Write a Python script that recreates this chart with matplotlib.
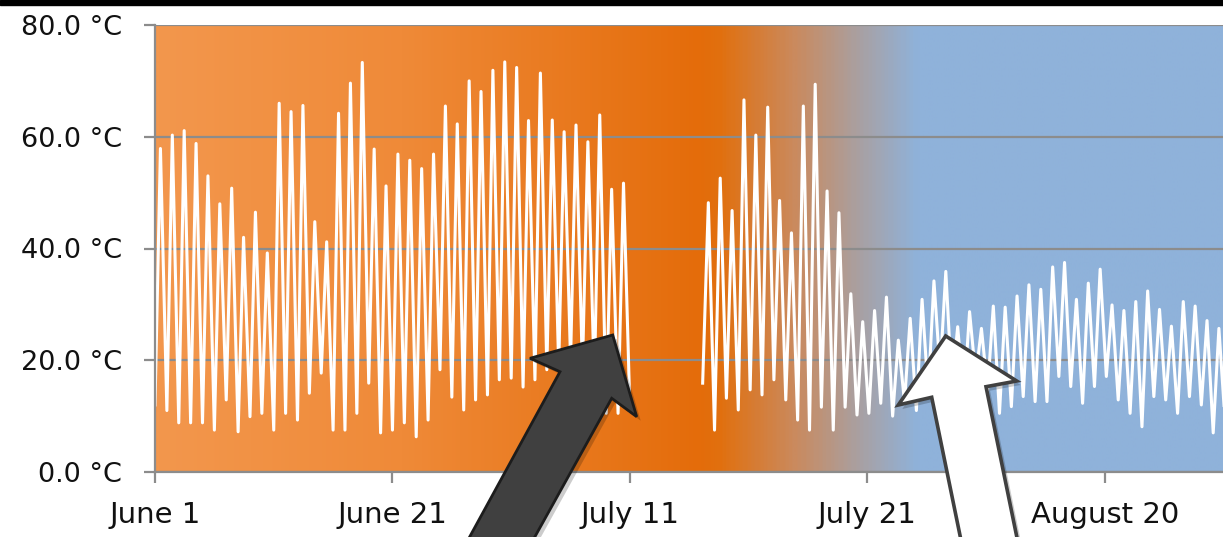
import numpy as np
import matplotlib
matplotlib.use("Agg")
import matplotlib.pyplot as plt
from matplotlib.colors import LinearSegmentedColormap
from matplotlib.patches import Polygon, Rectangle

# --- daily readings (°C) ---
# segment 1: June 1 .. July 10, one max per day, mins at start of each day (+ end)
SEG1_START = 0
SEG1_MAX = [57.9, 60.3, 61.1, 58.8, 53.0, 48.0, 50.8, 42.0, 46.5, 39.2,
            66.0, 64.5, 65.6, 44.8, 41.2, 64.2, 69.6, 73.3, 57.8, 51.2,
            56.9, 55.8, 54.3, 56.9, 65.5, 62.3, 70.0, 68.1, 71.9, 73.4,
            72.4, 62.9, 71.4, 63.0, 60.9, 62.1, 59.1, 63.9, 50.6, 51.7]
SEG1_MIN = [12.0, 11.0, 8.8, 8.8, 8.8, 7.5, 12.9, 7.2, 9.9, 10.5,
            7.5, 10.5, 9.3, 14.1, 17.7, 7.5, 7.5, 10.5, 15.9, 7.0,
            7.5, 8.8, 6.3, 9.3, 18.3, 13.4, 11.1, 12.9, 13.8, 16.5,
            16.8, 15.2, 16.5, 18.3, 18.8, 20.0, 18.3, 15.9, 10.5, 10.5, 11.0]

# segment 2: after the logging gap, July 17 onwards
SEG2_START = 46
SEG2_MAX = [48.2, 52.6, 46.8, 66.6, 60.3, 65.3, 48.6, 42.8, 65.5, 69.4,
            50.3, 46.4, 31.9, 26.9, 28.9, 31.3, 23.6, 27.5, 30.9, 34.2,
            35.9, 26.0, 28.7, 25.7, 29.7, 29.5, 31.5, 33.5, 32.7, 36.7,
            37.5, 30.9, 33.8, 36.3, 29.9, 28.9, 30.5, 32.4, 29.1, 26.1,
            30.5, 29.7, 27.1, 25.7]
SEG2_MIN = [15.9, 7.5, 13.2, 11.1, 14.7, 13.8, 16.5, 12.9, 9.3, 7.5,
            11.6, 7.5, 11.6, 10.2, 10.5, 12.3, 10.0, 12.5, 11.0, 14.0,
            18.0, 15.0, 13.0, 17.0, 14.7, 10.5, 11.7, 13.5, 12.6, 12.6,
            17.1, 15.3, 12.3, 15.3, 17.1, 12.9, 10.5, 8.1, 13.5, 12.9,
            10.5, 13.5, 12.0, 7.0, 9.0]

# hour of day of the low / high reading in each segment
SEG1_HOURS = (0, 11)
SEG2_HOURS = (3, 14.5)

TICK_DAYS = [0, 20, 40, 60, 80]
TICK_LABELS = ["June 1", "June 21", "July 11", "July 21", "August 20"]
Y_TICKS = [0, 20, 40, 60, 80]
X_MAX = 89.95


def daily_series(start, mins, maxes, hours):
    n = len(maxes)
    days = start + np.arange(n)
    t = np.empty(2 * n + 1)
    v = np.empty(2 * n + 1)
    t[0:-1:2] = days + hours[0] / 24
    v[0:-1:2] = mins[:-1]
    t[1::2] = days + hours[1] / 24
    v[1::2] = maxes
    t[-1] = start + n + hours[0] / 24
    v[-1] = mins[-1]
    return t, v


t1, v1 = daily_series(SEG1_START, SEG1_MIN, SEG1_MAX, SEG1_HOURS)
t2, v2 = daily_series(SEG2_START, SEG2_MIN, SEG2_MAX, SEG2_HOURS)
t = np.concatenate([t1, [np.nan], t2])
v = np.concatenate([v1, [np.nan], v2])

W, H = 1223, 537
fig = plt.figure(figsize=(W / 100, H / 100), dpi=100)
ax = fig.add_axes([155 / W, 65 / H, 1 - 155 / W, (512 - 65) / H])

# background gradient orange -> blue
stops = [(0.0, "#F3974D"), (0.23, "#EF8A38"), (0.51, "#E46C0A"),
         (0.53, "#E1700F"), (0.60, "#CA8A5E"), (0.66, "#A9A0A2"),
         (0.715, "#8FB2DA"), (1.0, "#8FB2DA")]
cmap = LinearSegmentedColormap.from_list("bg", stops)
ax.imshow(np.linspace(0, 1, 600)[None, :], cmap=cmap, aspect="auto",
          extent=[0, X_MAX, 0, 80], zorder=0, interpolation="bilinear")

ax.plot(t, v, color="white", lw=2.2, zorder=3, solid_joinstyle="round")

ax.set_xlim(0, X_MAX)
ax.set_ylim(0, 80)
ax.set_xticks(TICK_DAYS)
ax.set_xticklabels(TICK_LABELS)
ax.set_yticks(Y_TICKS)
ax.set_yticklabels([f"{y:.1f} °C" for y in Y_TICKS])

ax.set_axisbelow(True)
ax.yaxis.grid(True, color="#8c8c8c", lw=1.6)
for s in ("top", "right"):
    ax.spines[s].set_visible(False)
for s in ("left", "bottom"):
    ax.spines[s].set_color("#8c8c8c")
    ax.spines[s].set_linewidth(1.6)
    ax.spines[s].set_zorder(4)

ax.tick_params(axis="y", length=8, width=1.6, color="#8c8c8c", pad=16,
               labelsize=19.5, labelcolor="#111111")
ax.tick_params(axis="x", length=8, width=1.6, color="#8c8c8c", pad=13,
               labelsize=21, labelcolor="#111111")


def px(points):
    return [(x / W, (H - y) / H) for x, y in points]


dark_arrow = [(457, 560), (560, 371.7), (530, 358.3), (612.7, 335),
              (636.7, 416.7), (611.7, 398.3), (522, 560)]
white_arrow = [(963, 550), (931.7, 397.3), (898.3, 405), (945.7, 336),
               (1016.7, 381), (986, 386.7), (1019.5, 550)]

for pts, face, edge, lw in [(dark_arrow, "#404040", "#1c1c1c", 2.0),
                            (white_arrow, "white", "#404040", 2.6)]:
    shadow = [(x + 4, y + 4) for x, y in pts]
    fig.add_artist(Polygon(px(shadow), closed=True, transform=fig.transFigure,
                           facecolor="black", edgecolor="none", alpha=0.2,
                           zorder=9))
    fig.add_artist(Polygon(px(pts), closed=True, transform=fig.transFigure,
                           facecolor=face, edgecolor=edge, lw=lw,
                           joinstyle="miter", zorder=10))

# black strip along the top edge
fig.add_artist(Rectangle((0, 1 - 5 / H), 1, 5 / H, transform=fig.transFigure,
                         color="black", zorder=11))

fig.savefig("out.png", dpi=100)
